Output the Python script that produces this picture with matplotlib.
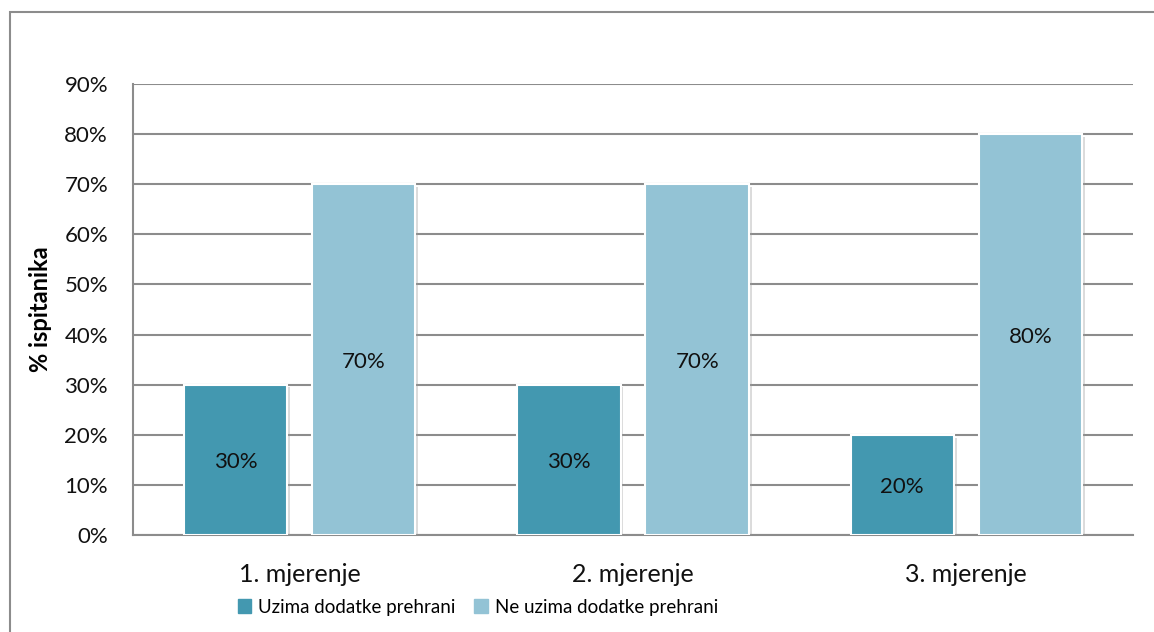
import matplotlib.pyplot as plt
import matplotlib.patches as mpatches
import matplotlib.patheffects as pe
import numpy as np

# data
categories = ["1. mjerenje", "2. mjerenje", "3. mjerenje"]
series_names = ["Uzima dodatke prehrani", "Ne uzima dodatke prehrani"]
uzima = [30, 30, 20]
ne_uzima = [70, 70, 80]
y_ticks = [0, 10, 20, 30, 40, 50, 60, 70, 80, 90]

COLORS = ["#4398B0", "#93C3D5"]
GRID = "#8C8C8C"

plt.rcParams["font.family"] = ["Lato", "DejaVu Sans"]

fig = plt.figure(figsize=(11.54, 6.32), dpi=100)
ax = fig.add_axes([133 / 1154, 1 - 535 / 632, 1000 / 1154, 451 / 632])

# outer chart frame
frame = mpatches.Rectangle((10 / 1154, -0.05), 1.2, (632 - 12) / 632 + 0.05,
                           transform=fig.transFigure, fill=False,
                           edgecolor="#8C8C8C", linewidth=1.5, clip_on=False)
fig.patches.append(frame)

x = np.arange(len(categories))
width = 0.31
gap = 0.075
offset = (width + gap) / 2

shadow = [pe.SimplePatchShadow(offset=(2, -2), shadow_rgbFace="#999999", alpha=0.35),
          pe.Normal()]

for vals, off, col in [(uzima, -offset, COLORS[0]), (ne_uzima, offset, COLORS[1])]:
    bars = ax.bar(x + off, vals, width, color=col, edgecolor="white",
                  linewidth=1.5, zorder=3)
    for b in bars:
        b.set_path_effects(shadow)
    for xi, v in zip(x + off, vals):
        ax.text(xi, v / 2 - 0.5, f"{v}%", ha="center", va="center",
                fontsize=16, color="#111111", zorder=4)

ax.set_xlim(-0.5, len(categories) - 0.5)
ax.set_ylim(0, 90)
ax.set_yticks(y_ticks)
ax.set_yticklabels([f"{t}%" for t in y_ticks], fontsize=16)
ax.set_xticks(x)
ax.set_xticklabels(categories, fontsize=18)
ax.tick_params(axis="y", length=0, pad=18, colors="#111111")
ax.tick_params(axis="x", length=0, pad=20, colors="#111111")

ax.yaxis.grid(True, color=GRID, linewidth=1.5, zorder=0)
ax.set_axisbelow(True)
for s in ["top", "right"]:
    ax.spines[s].set_visible(False)
ax.spines["left"].set_color(GRID)
ax.spines["left"].set_linewidth(1.5)
ax.spines["bottom"].set_color(GRID)
ax.spines["bottom"].set_linewidth(1.5)

ax.set_ylabel("% ispitanika", fontsize=17, fontweight="bold", labelpad=9)

handles = [mpatches.Patch(color=c, label=n) for c, n in zip(COLORS, series_names)]
fig.legend(handles=handles, loc="center", bbox_to_anchor=(478 / 1154, 1 - 607 / 632),
           ncol=2, frameon=False, fontsize=13.5, handlelength=0.7, handleheight=0.7,
           handletextpad=0.4, columnspacing=1.0)

fig.savefig("out.png", dpi=100)
